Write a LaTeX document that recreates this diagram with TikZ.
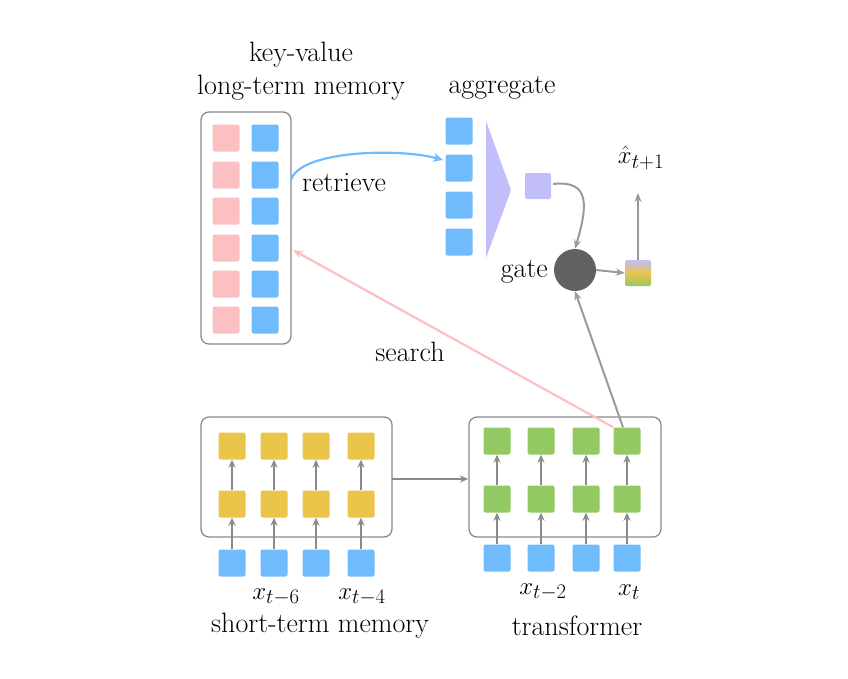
\documentclass[tikz,border=0pt]{standalone}
\usetikzlibrary{arrows.meta}
\definecolor{kb}{HTML}{6FBBFC}
\definecolor{kp}{HTML}{FDC0C2}
\definecolor{ky}{HTML}{EAC54A}
\definecolor{kg}{HTML}{93C963}
\definecolor{kv}{HTML}{C1BEF9}
\definecolor{ka}{HTML}{9A9A9A}
\definecolor{kf}{HTML}{8A8A8A}
\begin{document}
\begin{tikzpicture}[x=1pt,y=-1pt,font=\fontsize{28}{33}\selectfont,
  sq/.style={minimum size=27pt,inner sep=0pt,rounded corners=2pt},
  frame/.style={draw=kf,line width=1.3pt,rounded corners=8pt},
  ar/.style={-{Stealth[length=9pt,width=7pt]},draw=ka,line width=2pt},
  sar/.style={-{Stealth[length=8pt,width=7pt]},draw=kf,line width=1.4pt},
  lbl/.style={inner sep=0pt}]
\useasboundingbox (0,0) rectangle (848,678);
% long-term memory
\draw[frame] (201,112) rectangle (291,344);
\coordinate (memR) at (291,180);
\coordinate (memS) at (293,250);
\foreach \y [count=\i] in {138,175,211,248,284,320}{
  \node[sq,fill=kp] (p\i) at (226,\y) {};
  \node[sq,fill=kb] (m\i) at (265,\y) {};}
\node[lbl,align=center] (ltm) at (301,71) {key-value\\long-term memory};
% aggregate
\foreach \y [count=\i] in {131,168,205,242}
  \node[sq,fill=kb] (a\i) at (459,\y) {};
\fill[kv] (486,121) -- (511,190) -- (486,258) -- cycle;
\node[lbl] (agg) at (502,88) {aggregate};
\node[sq,fill=kv,minimum size=26pt] (agv) at (538,186) {};
% gate
\node[circle,fill=black!62,minimum size=42pt,inner sep=0pt] (gate) at (575,270) {};
\node[lbl,anchor=east] (gl) at (548,272) {gate};
\node[sq,minimum size=26pt,top color=kv,bottom color=kg,middle color=ky] (out) at (638,273) {};
\node[lbl] (xh) at (641,158) {$\hat{x}_{t+1}$};
\coordinate (outtop) at (638,193);
\draw[ar] (out.north) -- (outtop);
\draw[ar] (gate.east) -- (out.west);
\draw[ar] (agv.east) ++(2,-2) .. controls (590,180) and (588,205) .. (gate.north);
% retrieve
\coordinate (aggin) at (443,160);
\draw[-{Stealth[length=10pt,width=9pt]},draw=kb,line width=2.2pt] (memR) .. controls (300,150) and (400,148) .. (aggin);
\node[lbl] (ret) at (344,183) {retrieve};
% short-term memory
\draw[frame] (201,417) rectangle (392,537);
\foreach \x [count=\i] in {232,274,316,361}{
  \node[sq,fill=ky] (s2\i) at (\x,446) {};
  \node[sq,fill=ky] (s1\i) at (\x,504) {};
  \node[sq,fill=kb] (s0\i) at (\x,563) {};
  \draw[sar] (s0\i) -- (s1\i);
  \draw[sar] (s1\i) -- (s2\i);}
% transformer
\draw[frame] (469,417) rectangle (661,537);
\foreach \x [count=\i] in {497,541,586,627}{
  \node[sq,fill=kg] (t2\i) at (\x,441) {};
  \node[sq,fill=kg] (t1\i) at (\x,499) {};
  \node[sq,fill=kb] (t0\i) at (\x,558) {};
  \draw[sar] (t0\i) -- (t1\i);
  \draw[sar] (t1\i) -- (t2\i);}
\coordinate (stR) at (392,479);
\coordinate (trL) at (468,479);
\draw[sar] (stR) -- (trL);
% search and gate input
\draw[-{Stealth[length=10pt,width=8pt]},draw=kp,line width=2.2pt] (t24.north west) -- (memS);
\node[lbl] (srch) at (410,352) {search};
\draw[ar] (t24.north) ++(-4,0) -- (gate.south);
% labels
\node[lbl] (l1) at (276,597) {$x_{t-6}$};
\node[lbl] (l2) at (362,597) {$x_{t-4}$};
\node[lbl] (l3) at (543,592) {$x_{t-2}$};
\node[lbl] (l4) at (629,592) {$x_{t}$};
\node[lbl] (stm) at (320,626) {short-term memory};
\node[lbl] (trf) at (577,626) {transformer};
\end{tikzpicture}
\end{document}
